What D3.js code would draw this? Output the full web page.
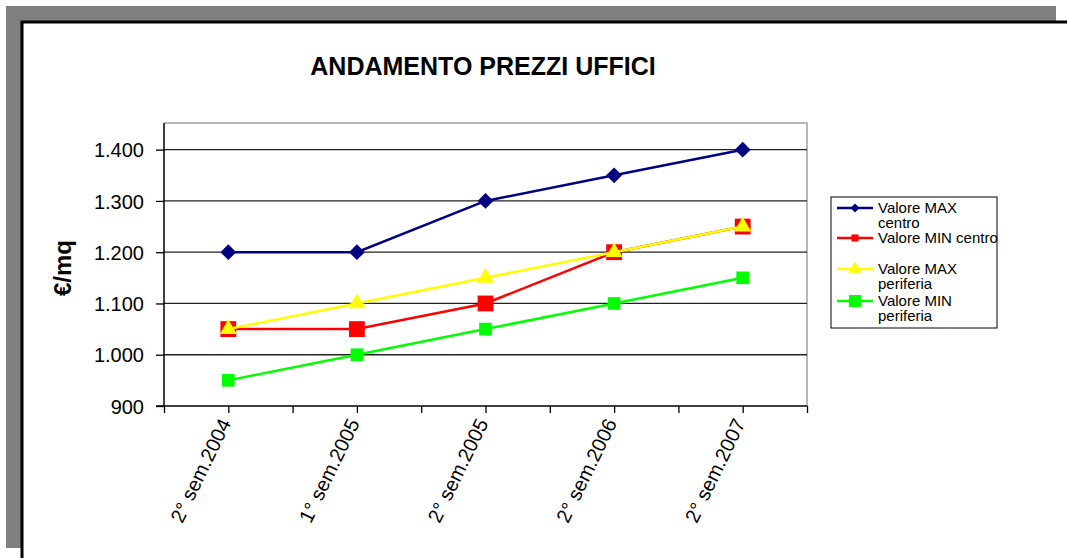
<!DOCTYPE html>
<meta charset="utf-8">
<script src="https://d3js.org/d3.v7.min.js"></script>
<style>
  body { margin: 0; background: #fff; }
  text { font-family: "Liberation Sans", Arial, sans-serif; fill: #000; }
</style>
<div id="chart"></div>
<script>
// data
var categories = ["2° sem.2004", "1° sem.2005", "2° sem.2005", "2° sem.2006", "2° sem.2007"];
var maxCentro = [1200, 1200, 1300, 1350, 1400];
var minCentro = [1050, 1050, 1100, 1200, 1250];
var maxPeriferia = [1050, 1100, 1150, 1200, 1250];
var minPeriferia = [950, 1000, 1050, 1100, 1150];
var yTicks = [900, 1000, 1100, 1200, 1300, 1400];
var seriesNames = [["Valore MAX", "centro"], ["Valore MIN centro"], ["Valore MAX", "periferia"], ["Valore MIN", "periferia"]];

var W = 1067, H = 558;
var svg = d3.select("#chart").append("svg").attr("width", W).attr("height", H);

// frame: grey shadow band + black border
svg.append("rect").attr("x", 6).attr("y", 6).attr("width", 1050).attr("height", 542).attr("fill", "#808080");
svg.append("rect").attr("x", 22).attr("y", 22).attr("width", 1060).attr("height", 560)
  .attr("fill", "#fff").attr("stroke", "#000").attr("stroke-width", 3);

// plot area
var pLeft = 164, pRight = 807, pTop = 123, pBottom = 406;

var x = d3.scaleBand().domain(categories).range([pLeft, pRight]).padding(0);
var xt = d3.scaleLinear().domain([0, categories.length]).range([pLeft, pRight]);
var y = d3.scaleLinear().domain([900, 1452]).range([pBottom, pTop]);

// title
svg.append("text").attr("x", 483).attr("y", 75).attr("text-anchor", "middle")
  .style("font-size", "25px").style("font-weight", "bold").text("ANDAMENTO PREZZI UFFICI");

// plot border (top/right grey)
svg.append("path").attr("d", "M" + pLeft + "," + pTop + "H" + pRight + "V" + pBottom)
  .attr("fill", "none").attr("stroke", "#a0a0a0").attr("stroke-width", 1.5);

// gridlines
svg.append("g").selectAll("line").data(yTicks.slice(1)).enter().append("line")
  .attr("x1", pLeft).attr("x2", pRight)
  .attr("y1", d => y(d)).attr("y2", d => y(d))
  .attr("stroke", "#222").attr("stroke-width", 1.3);

// y axis
var yAxis = svg.append("g").attr("transform", "translate(" + pLeft + ",0)")
  .call(d3.axisLeft(y).tickValues(yTicks).tickSize(8).tickPadding(12)
    .tickFormat(d => d3.format(",")(d).replace(",", ".")));
yAxis.select(".domain").attr("d", "M0," + pTop + "V" + pBottom).attr("stroke", "#000").attr("stroke-width", 1.5);
yAxis.selectAll("line").attr("stroke", "#000").attr("stroke-width", 1.3);
yAxis.selectAll("text").style("font-size", "20px").attr("dy", "0.36em");

// x axis: ticks every half category
var halfTicks = d3.range(0, categories.length + 0.01, 0.5);
var xAxis = svg.append("g").attr("transform", "translate(0," + pBottom + ")")
  .call(d3.axisBottom(xt).tickValues(halfTicks).tickSize(7).tickFormat(""));
xAxis.select(".domain").attr("d", "M" + (pLeft - 8) + ",0H" + pRight).attr("stroke", "#000").attr("stroke-width", 1.5);
xAxis.selectAll("line").attr("stroke", "#000").attr("stroke-width", 1.3);

// category labels rotated
var xLab = svg.append("g").attr("transform", "translate(0," + pBottom + ")")
  .call(d3.axisBottom(x).tickSize(0).tickPadding(0));
xLab.select(".domain").remove();
xLab.selectAll("line").remove();
xLab.selectAll("text")
  .style("font-size", "20px")
  .attr("text-anchor", "end")
  .attr("y", 0)
  .attr("dy", "0.35em")
  .attr("transform", "translate(-3,14) rotate(-64)");

// y label
svg.append("text").attr("transform", "translate(71,268) rotate(-90)")
  .attr("text-anchor", "middle").style("font-size", "24px").style("font-weight", "bold").text("€/mq");

var series = [
  { values: maxCentro, color: "#000080", symbol: d3.symbolSquare, rot: 45, size: 125, lsize: 40 },
  { values: minCentro, color: "#ff0000", symbol: d3.symbolSquare, rot: 0, size: 250, lsize: 50 },
  { values: maxPeriferia, color: "#ffff00", symbol: d3.symbolTriangle, rot: 0, size: 125, lsize: 75 },
  { values: minPeriferia, color: "#00ff00", symbol: d3.symbolSquare, rot: 0, size: 160, lsize: 144 }
];

var line = d3.line().x((d, i) => x(categories[i]) + x.bandwidth() / 2).y(d => y(d));

series.forEach(function(s) {
  var g = svg.append("g");
  g.append("path").datum(s.values).attr("d", line)
    .attr("fill", "none").attr("stroke", s.color).attr("stroke-width", 2.5);
  g.selectAll("path.m").data(s.values).enter().append("path").attr("class", "m")
    .attr("d", d3.symbol().type(s.symbol).size(s.size))
    .attr("transform", (d, i) => "translate(" + (x(categories[i]) + x.bandwidth() / 2) + "," + y(d) + ") rotate(" + s.rot + ")")
    .attr("fill", s.color);
});

// legend
var leg = svg.append("g");
leg.append("rect").attr("x", 831).attr("y", 197).attr("width", 166).attr("height", 131)
  .attr("fill", "#fff").attr("stroke", "#000").attr("stroke-width", 1);
var legY = [208, 238, 269, 301];
series.forEach(function(s, i) {
  var ly = legY[i];
  leg.append("line").attr("x1", 837).attr("x2", 873).attr("y1", ly).attr("y2", ly)
    .attr("stroke", s.color).attr("stroke-width", 2.5);
  leg.append("path").attr("d", d3.symbol().type(s.symbol).size(s.lsize))
    .attr("transform", "translate(855," + ly + ") rotate(" + s.rot + ")").attr("fill", s.color);
  var t = leg.append("text").attr("x", 878).attr("y", ly + 5).style("font-size", "15px");
  seriesNames[i].forEach(function(part, j) {
    t.append("tspan").attr("x", 878).attr("dy", j === 0 ? 0 : 15).text(part);
  });
});
</script>
